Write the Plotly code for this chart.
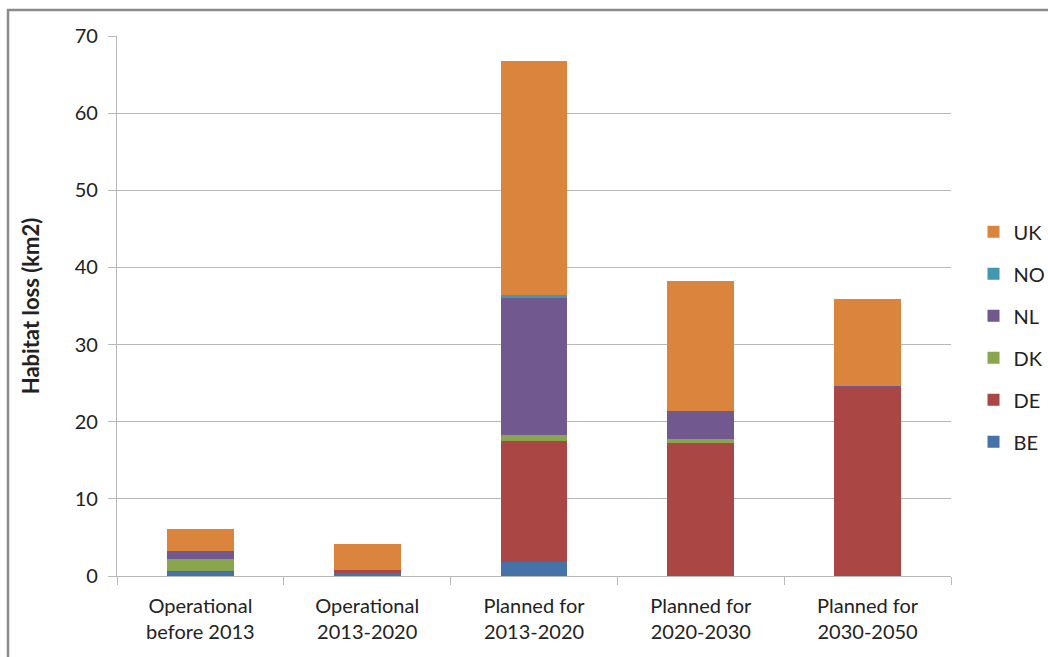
import plotly.graph_objects as go

categories = ["Operational<br>before 2013", "Operational<br>2013-2020", "Planned for<br>2013-2020",
              "Planned for<br>2020-2030", "Planned for<br>2030-2050"]
series_names = ["BE", "DE", "DK", "NL", "NO", "UK"]
BE = [0.55, 0.35, 1.85, 0.0, 0.0]
DE = [0.1, 0.45, 15.7, 17.2, 24.55]
DK = [1.6, 0.0, 0.75, 0.5, 0.0]
NL = [1.0, 0.0, 17.8, 3.65, 0.1]
NO = [0.0, 0.0, 0.3, 0.0, 0.0]
UK = [2.9, 3.35, 30.3, 16.9, 11.3]
colors = ["#4572A7", "#AA4643", "#89A54E", "#71588F", "#4198AF", "#DB843D"]
values = [BE, DE, DK, NL, NO, UK]

font_family = "Lato, 'Open Sans', sans-serif"

fig = go.Figure()
n = len(series_names)
for i, (name, vals, col) in enumerate(zip(series_names, values, colors)):
    fig.add_trace(go.Bar(
        x=categories, y=vals, name=name, legendgroup=name, legendrank=n - i,
        marker=dict(color=col, line=dict(width=0)),
    ))

fig.update_layout(
    barmode="stack",
    bargap=0.6,
    width=1048, height=657,
    margin=dict(l=117, r=97, t=36, b=81, autoexpand=False),
    paper_bgcolor="white", plot_bgcolor="white",
    font=dict(family=font_family, size=20, color="#222"),
    legend=dict(
        traceorder="grouped", tracegroupgap=13,
        x=1.027, xanchor="left", y=0.443, yanchor="middle",
        font=dict(size=20, color="#222"),
        itemwidth=30,
    ),
    showlegend=True,
    yaxis=dict(
        range=[0, 70], dtick=10, showgrid=True, gridcolor="#B8B8B8", gridwidth=1.3,
        showline=True, linecolor="#B8B8B8", linewidth=1.3,
        ticks="outside", ticklen=8, tickcolor="#B8B8B8", ticklabelstandoff=6,
        tickfont=dict(size=20), zeroline=False,
        title=dict(text="<b>Habitat loss (km2)</b>", font=dict(size=22), standoff=28),
    ),
    xaxis=dict(
        showline=True, linecolor="#B8B8B8", linewidth=1.3,
        ticks="outside", ticklen=8, tickcolor="#B8B8B8", tickson="boundaries",
        ticklabelstandoff=12,
        tickfont=dict(size=20), showgrid=False,
    ),
    shapes=[dict(type="rect", xref="paper", yref="paper",
                 x0=(8 - 117) / 834, x1=(1070 - 117) / 834,
                 y0=(576 - 680) / 540, y1=(576 - 10) / 540,
                 line=dict(color="#8C8C8C", width=2.5), fillcolor="rgba(0,0,0,0)", layer="below")],
)

fig.write_html("out.html")
